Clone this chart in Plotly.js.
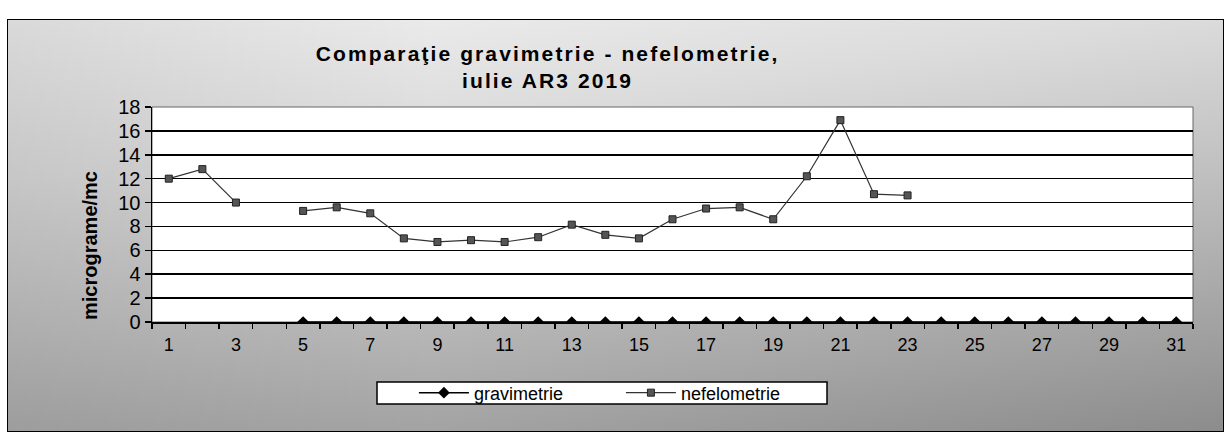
<!DOCTYPE html>
<html>
<head>
<meta charset="utf-8">
<script src="https://cdn.plot.ly/plotly-3.0.1.min.js"></script>
<style>
html,body{margin:0;padding:0;background:#fff;}
#wrap{position:relative;width:1226px;height:436px;}
#bg{position:absolute;left:7px;top:19px;width:1215px;height:411px;border:1.5px solid #000;
  background:
    linear-gradient(90deg,rgba(0,0,0,0.10) 0%,rgba(0,0,0,0) 35%,rgba(0,0,0,0) 100%),
    linear-gradient(172deg,#f2f2f2 0%,#dcdcdc 28%,#c0c0c0 55%,#a4a4a4 80%,#8c8c8c 100%);}
#chart{position:absolute;left:0;top:0;width:1226px;height:436px;}
.gtitle{letter-spacing:2.1px;}
</style>
</head>
<body>
<div id="wrap">
<div id="bg"></div>
<div id="chart"></div>
</div>
<script>
// ---- data ----
const days = [1,2,3,4,5,6,7,8,9,10,11,12,13,14,15,16,17,18,19,20,21,22,23,24,25,26,27,28,29,30,31];
const gravimetrie = [null,null,null,null,0,0,0,0,0,0,0,0,0,0,0,0,0,0,0,0,0,0,0,0,0,0,0,0,0,0,0];
const nefelometrie = [12.0,12.8,10.0,null,9.3,9.6,9.1,7.0,6.7,6.85,6.7,7.1,8.15,7.3,7.0,8.6,9.5,9.6,8.6,12.2,16.9,10.7,10.6,null,null,null,null,null,null,null,null];
const tickDays = [1,3,5,7,9,11,13,15,17,19,21,23,25,27,29,31];
const tickLabels = tickDays.map(String);
const seriesNames = ['gravimetrie','nefelometrie'];
const chartTitle = 'Comparaţie gravimetrie - nefelometrie,<br>iulie AR3 2019';
const yTitle = 'micrograme/mc';

// ---- helpers ----
const boundaries = days.map(d => d - 0.5).concat([days[days.length-1] + 0.5]);
const FONT = 'Liberation Sans, Arial, sans-serif';

const traces = [
  {
    x: days, y: gravimetrie, name: seriesNames[0], type: 'scatter', mode: 'lines+markers',
    line: {color: '#000', width: 1.5},
    marker: {symbol: 'diamond', size: 9, color: '#000'},
    connectgaps: false
  },
  {
    x: days, y: nefelometrie, name: seriesNames[1], type: 'scatter', mode: 'lines+markers',
    line: {color: '#333', width: 1.2},
    marker: {symbol: 'square', size: 7, color: '#555', line: {color: '#222', width: 1}},
    connectgaps: false
  }
];

const layout = {
  width: 1226, height: 436,
  margin: {l: 152, r: 33, t: 107, b: 114},
  paper_bgcolor: 'rgba(0,0,0,0)',
  plot_bgcolor: '#ffffff',
  font: {family: FONT, color: '#000'},
  showlegend: true,
  title: {
    text: chartTitle,
    font: {family: FONT, size: 21, color: '#000', weight: 700},
    xref: 'paper', x: 0.38, xanchor: 'center',
    yref: 'container', y: 0.861, yanchor: 'middle'
  },
  xaxis: {
    range: [0.5, 31.5],
    tickmode: 'array', tickvals: tickDays, ticktext: tickLabels,
    ticks: '', ticklabelstandoff: 6,
    tickfont: {family: FONT, size: 18, color: '#000'},
    showline: true, linecolor: '#000', linewidth: 1.5,
    showgrid: false, zeroline: false,
    minor: {tickmode: 'array', tickvals: boundaries, ticks: 'outside', ticklen: 5, tickwidth: 1.5, tickcolor: '#000', showgrid: false},
    fixedrange: true
  },
  yaxis: {
    range: [0, 18], tickmode: 'linear', tick0: 0, dtick: 2,
    ticks: 'outside', ticklen: 6, tickwidth: 1.5, tickcolor: '#000',
    tickfont: {family: FONT, size: 20, color: '#000'},
    showline: true, linecolor: '#000', linewidth: 1.5,
    showgrid: true, gridcolor: '#000', gridwidth: 1.5,
    zeroline: false, fixedrange: true
  },
  legend: {
    orientation: 'h', x: 0.2516, xanchor: 'left', y: -0.330, yanchor: 'middle',
    bgcolor: 'rgba(0,0,0,0)', borderwidth: 0,
    font: {family: FONT, size: 18, color: '#000'},
    itemwidth: 50,
    entrywidth: 142, entrywidthmode: 'pixels'
  },
  shapes: [
    {type: 'rect', xref: 'paper', yref: 'paper', x0: 0, x1: 1, y0: 0, y1: 1,
     line: {color: '#666', width: 1}, fillcolor: '#ffffff', layer: 'below'},
    // legend frame
    {type: 'rect', xref: 'paper', yref: 'paper',
     x0: (377-152)/1041, x1: (827-152)/1041, y0: (322-404)/215, y1: (322-382)/215,
     line: {color: '#000', width: 1.5}, fillcolor: '#ffffff', layer: 'below'}
  ],
  annotations: [{
    text: yTitle, textangle: -90, showarrow: false,
    xref: 'paper', yref: 'paper', x: -0.0596, y: 0.358, xanchor: 'center', yanchor: 'middle',
    font: {family: FONT, size: 20, color: '#000', weight: 700}
  }]
};

Plotly.newPlot('chart', traces, layout, {displayModeBar: false, staticPlot: true});
</script>
</body>
</html>
